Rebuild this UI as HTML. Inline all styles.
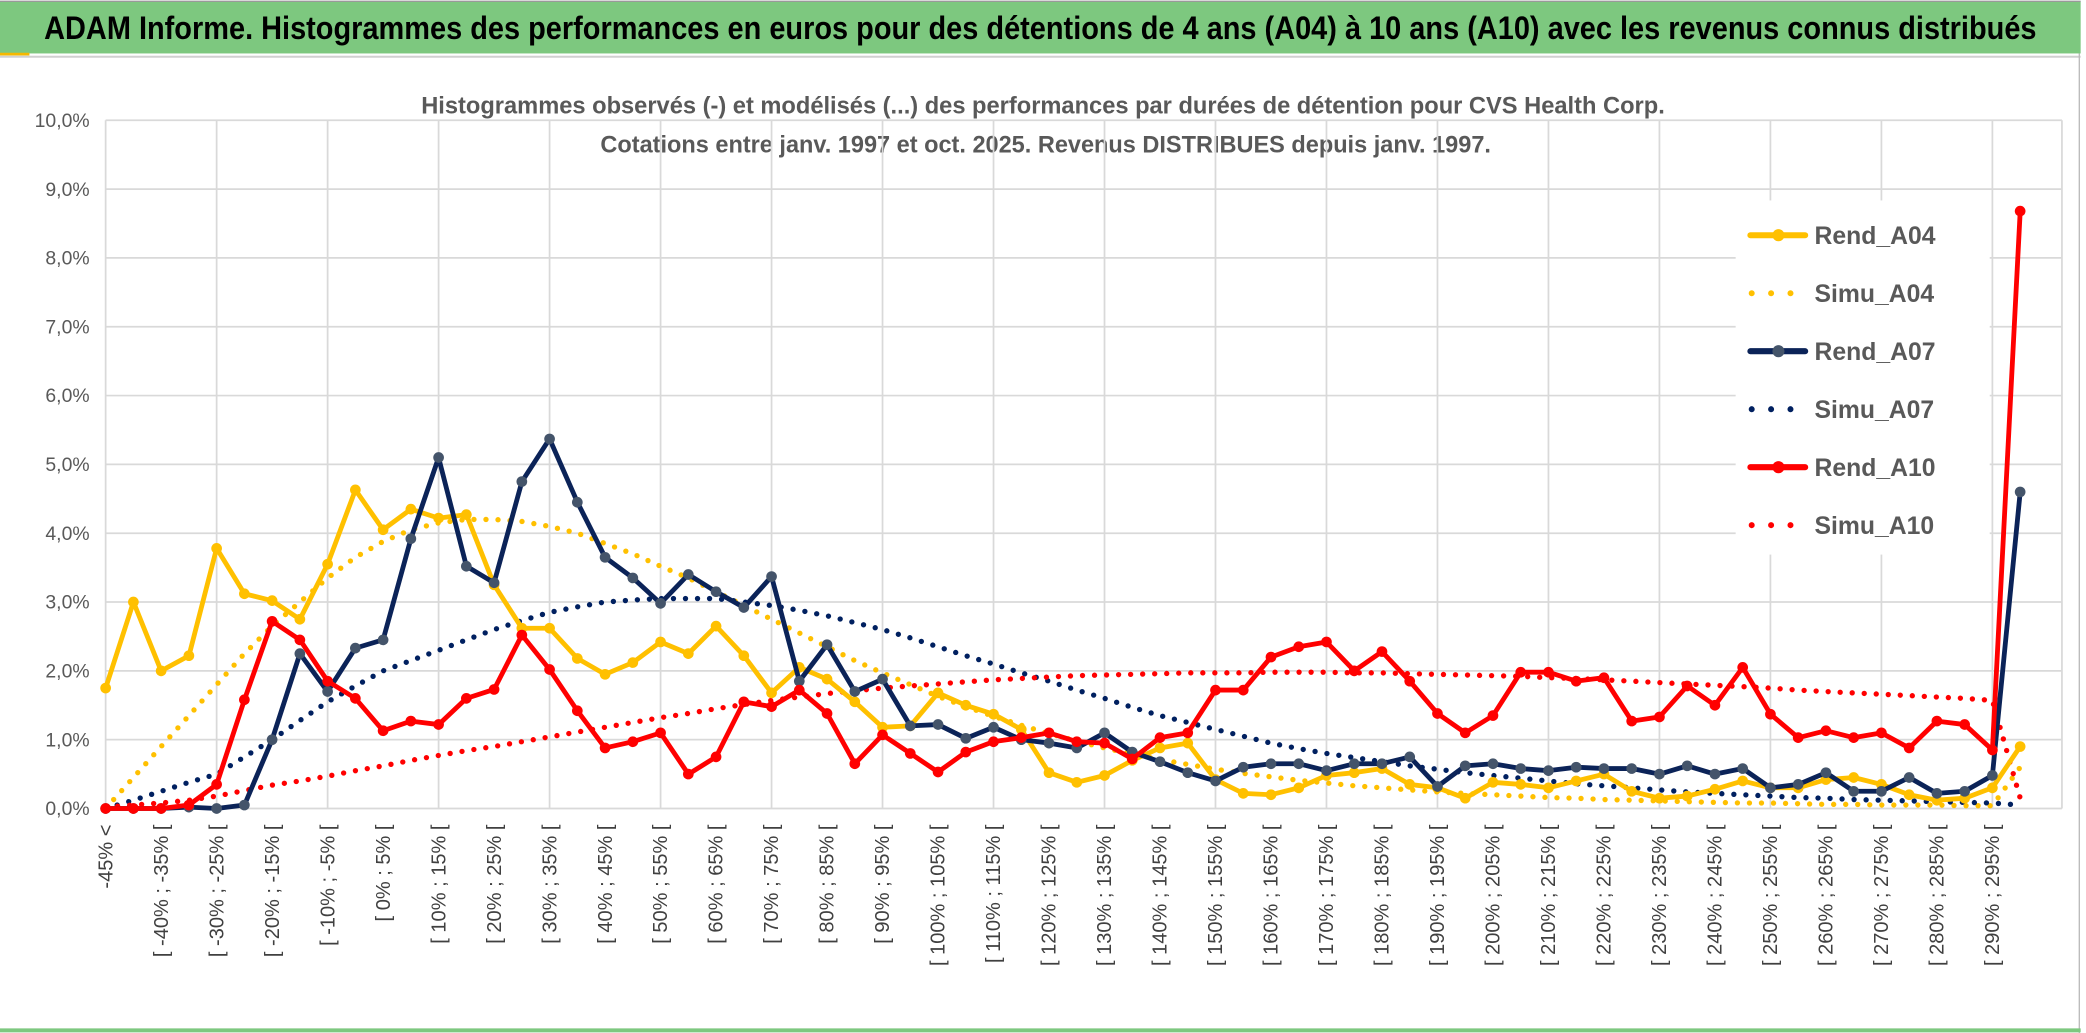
<!DOCTYPE html>
<html><head><meta charset="utf-8"><style>
html,body{margin:0;padding:0;background:#fff;}
svg{display:block;}
text{font-family:"Liberation Sans Narrow","Liberation Sans",sans-serif;}
</style></head><body>
<svg id="chart" width="2086" height="1033" viewBox="0 0 1560 773" preserveAspectRatio="none" xmlns="http://www.w3.org/2000/svg">
<rect x="0" y="0" width="1560" height="773" fill="#fff"/>
<rect x="0" y="1" width="1556" height="39" fill="#7dc87f"/>
<line x1="0" y1="1" x2="1556" y2="1" stroke="#999" stroke-width="1"/>
<line x1="0" y1="40.5" x2="22" y2="40.5" stroke="#f5b800" stroke-width="2"/>
<line x1="0" y1="42.5" x2="1556" y2="42.5" stroke="#d0d0d0" stroke-width="1.5"/>
<line x1="1555" y1="40" x2="1555" y2="773" stroke="#bbb" stroke-width="1"/>
<line x1="0" y1="771" x2="1556" y2="771" stroke="#7dc87f" stroke-width="3"/>
<text x="33" y="29" font-size="24" font-weight="bold" fill="#000" textLength="1490" lengthAdjust="spacingAndGlyphs">ADAM Informe. Histogrammes des performances en euros pour des détentions de 4 ans (A04) à 10 ans (A10) avec les revenus connus distribués</text>
<text x="780" y="85" font-size="18" font-weight="bold" fill="#595959" text-anchor="middle" textLength="930" lengthAdjust="spacingAndGlyphs">Histogrammes observés (-) et modélisés (...) des performances par durées de détention pour CVS Health Corp.</text>
<text x="782" y="114" font-size="18" font-weight="bold" fill="#595959" text-anchor="middle" textLength="666" lengthAdjust="spacingAndGlyphs">Cotations entre janv. 1997 et oct. 2025. Revenus DISTRIBUES depuis janv. 1997.</text>
<g id="grid"></g><g id="axes"></g><g id="series"></g><g id="legend"></g>
</svg>
<script>
const categories = ["-45% <","[ -45% ; -40% [","[ -40% ; -35% [","[ -35% ; -30% [","[ -30% ; -25% [","[ -25% ; -20% [","[ -20% ; -15% [","[ -15% ; -10% [","[ -10% ; -5% [","[ -5% ; 0% [","[ 0% ; 5% [","[ 5% ; 10% [","[ 10% ; 15% [","[ 15% ; 20% [","[ 20% ; 25% [","[ 25% ; 30% [","[ 30% ; 35% [","[ 35% ; 40% [","[ 40% ; 45% [","[ 45% ; 50% [","[ 50% ; 55% [","[ 55% ; 60% [","[ 60% ; 65% [","[ 65% ; 70% [","[ 70% ; 75% [","[ 75% ; 80% [","[ 80% ; 85% [","[ 85% ; 90% [","[ 90% ; 95% [","[ 95% ; 100% [","[ 100% ; 105% [","[ 105% ; 110% [","[ 110% ; 115% [","[ 115% ; 120% [","[ 120% ; 125% [","[ 125% ; 130% [","[ 130% ; 135% [","[ 135% ; 140% [","[ 140% ; 145% [","[ 145% ; 150% [","[ 150% ; 155% [","[ 155% ; 160% [","[ 160% ; 165% [","[ 165% ; 170% [","[ 170% ; 175% [","[ 175% ; 180% [","[ 180% ; 185% [","[ 185% ; 190% [","[ 190% ; 195% [","[ 195% ; 200% [","[ 200% ; 205% [","[ 205% ; 210% [","[ 210% ; 215% [","[ 215% ; 220% [","[ 220% ; 225% [","[ 225% ; 230% [","[ 230% ; 235% [","[ 235% ; 240% [","[ 240% ; 245% [","[ 245% ; 250% [","[ 250% ; 255% [","[ 255% ; 260% [","[ 260% ; 265% [","[ 265% ; 270% [","[ 270% ; 275% [","[ 275% ; 280% [","[ 280% ; 285% [","[ 285% ; 290% [","[ 290% ; 295% [","[ 295% ; 300% ["];
const yTicks = [0,1,2,3,4,5,6,7,8,9,10];
const yTickLabels = ["0,0%","1,0%","2,0%","3,0%","4,0%","5,0%","6,0%","7,0%","8,0%","9,0%","10,0%"];
const rendA04 = [1.75,3.0,2.0,2.22,3.78,3.12,3.02,2.75,3.55,4.63,4.05,4.35,4.22,4.27,3.25,2.62,2.62,2.18,1.95,2.12,2.42,2.25,2.65,2.22,1.68,2.05,1.88,1.55,1.18,1.2,1.68,1.5,1.37,1.15,0.52,0.38,0.48,0.7,0.88,0.95,0.42,0.22,0.2,0.3,0.48,0.52,0.58,0.35,0.3,0.15,0.38,0.35,0.3,0.4,0.5,0.25,0.15,0.18,0.28,0.4,0.3,0.3,0.42,0.45,0.35,0.2,0.12,0.15,0.3,0.9];
const simuA04 = [0,0.45,0.9,1.35,1.8,2.25,2.65,3.0,3.35,3.65,3.88,4.05,4.15,4.2,4.2,4.17,4.1,4.0,3.85,3.7,3.52,3.35,3.15,2.95,2.75,2.55,2.35,2.15,1.97,1.8,1.63,1.48,1.34,1.21,1.09,0.98,0.88,0.79,0.71,0.64,0.57,0.51,0.46,0.41,0.37,0.33,0.3,0.27,0.24,0.22,0.2,0.18,0.16,0.15,0.13,0.12,0.11,0.1,0.09,0.08,0.08,0.07,0.06,0.06,0.05,0.05,0.05,0.04,0.04,0.6];
const rendA07 = [0,0,0,0.02,0,0.05,1.0,2.25,1.7,2.33,2.45,3.92,5.1,3.52,3.28,4.75,5.37,4.45,3.65,3.35,2.98,3.4,3.15,2.92,3.37,1.85,2.38,1.7,1.88,1.2,1.22,1.02,1.18,1.0,0.95,0.88,1.1,0.82,0.68,0.52,0.4,0.6,0.65,0.65,0.55,0.65,0.65,0.75,0.32,0.62,0.65,0.58,0.55,0.6,0.58,0.58,0.5,0.62,0.5,0.58,0.3,0.35,0.52,0.25,0.25,0.45,0.22,0.25,0.48,4.6];
const simuA07 = [0,0.12,0.25,0.38,0.5,0.75,1.0,1.28,1.55,1.78,2.0,2.15,2.3,2.45,2.6,2.73,2.85,2.93,3.0,3.03,3.05,3.05,3.05,3.0,2.95,2.88,2.8,2.7,2.6,2.48,2.35,2.22,2.1,1.97,1.85,1.72,1.6,1.47,1.35,1.25,1.15,1.05,0.95,0.87,0.8,0.74,0.68,0.62,0.57,0.52,0.48,0.44,0.4,0.36,0.33,0.3,0.27,0.24,0.22,0.2,0.18,0.16,0.15,0.13,0.12,0.11,0.1,0.09,0.08,0.05];
const rendA10 = [0,0,0,0.05,0.35,1.58,2.72,2.45,1.85,1.6,1.13,1.27,1.22,1.6,1.73,2.52,2.02,1.42,0.88,0.97,1.1,0.5,0.75,1.55,1.48,1.72,1.38,0.65,1.07,0.8,0.53,0.82,0.97,1.03,1.1,0.97,0.95,0.72,1.03,1.1,1.72,1.72,2.2,2.35,2.42,2.0,2.28,1.85,1.38,1.1,1.35,1.98,1.98,1.85,1.9,1.27,1.33,1.78,1.5,2.05,1.37,1.03,1.13,1.03,1.1,0.88,1.27,1.22,0.85,8.68];
const simuA10 = [0.02,0.05,0.08,0.12,0.18,0.26,0.34,0.4,0.47,0.55,0.62,0.7,0.77,0.84,0.9,0.97,1.04,1.11,1.18,1.25,1.32,1.38,1.45,1.51,1.57,1.62,1.67,1.71,1.75,1.78,1.81,1.84,1.87,1.89,1.91,1.93,1.94,1.95,1.96,1.97,1.97,1.97,1.98,1.98,1.98,1.97,1.97,1.96,1.95,1.94,1.93,1.92,1.9,1.89,1.87,1.85,1.83,1.81,1.79,1.77,1.75,1.72,1.7,1.68,1.66,1.64,1.62,1.6,1.57,0.15];

const NS = "http://www.w3.org/2000/svg";
const X0 = 79, DX = 20.75, Y0 = 605, YPER = 51.5, XRIGHT = 1542;
function xPos(i){ return X0 + i*DX; }
function yPos(v){ return Y0 - v*YPER; }
function mk(tag, attrs, parent){
  const e = document.createElementNS(NS, tag);
  for (const k in attrs) e.setAttribute(k, attrs[k]);
  parent.appendChild(e); return e;
}
const grid = document.getElementById('grid');
const axes = document.getElementById('axes');
const series = document.getElementById('series');
const legend = document.getElementById('legend');

yTicks.forEach((t, k) => {
  const l = mk('line', {x1:X0, x2:XRIGHT, y1:yPos(t), y2:yPos(t), stroke:'#d9d9d9', 'stroke-width':1.3}, grid);
  
  
  const tx = mk('text', {x:67, y:yPos(t)+5, 'font-size':14.5, fill:'#595959', 'text-anchor':'end'}, axes);
  tx.textContent = yTickLabels[k];
  
  
});
categories.forEach((c, i) => {
  if (i % 4 === 0) {
    const g = mk('line', {x1:xPos(i), x2:xPos(i), y1:yPos(10), y2:Y0, stroke:'#d9d9d9', 'stroke-width':1.3}, grid);
    
    
  }
  if (i % 2 === 0) {
    const x = xPos(i) + 5;
    const t = mk('text', {x:x, y:617, 'font-size':15, fill:'#404040', 'text-anchor':'end', transform:'rotate(-90 '+x+' 617)'}, axes);
    t.textContent = c;
    
    
  }
});
mk('line', {x1:XRIGHT, x2:XRIGHT, y1:yPos(10), y2:Y0, stroke:'#d9d9d9', 'stroke-width':1.3}, grid);

function pts(arr){ return arr.map((v,i)=>xPos(i).toFixed(1)+','+yPos(v).toFixed(1)).join(' '); }
function drawSim(arr, color, name){
  const p = mk('polyline', {points:pts(arr), fill:'none', stroke:color, 'stroke-width':4, 'stroke-dasharray':'0 9', 'stroke-linecap':'round', 'stroke-linejoin':'round'}, series);
  
  
}
function drawRend(arr, color, mcolor, name){
  const p = mk('polyline', {points:pts(arr), fill:'none', stroke:color, 'stroke-width':3.6, 'stroke-linejoin':'round'}, series);
  
  
  arr.forEach((v,i) => {
    const c = mk('circle', {cx:xPos(i), cy:yPos(v), r:4, fill:mcolor}, series);
    
    
  });
}
drawSim(simuA04, '#ffc000', 'simu-a04-line');
drawSim(simuA07, '#002060', 'simu-a07-line');
drawSim(simuA10, '#ff0000', 'simu-a10-line');
drawRend(rendA04, '#ffc000', '#ffc000', 'rend-a04-line');
drawRend(rendA07, '#0b2358', '#44546a', 'rend-a07-line');
drawRend(rendA10, '#ff0000', '#ff0000', 'rend-a10-line');

const lbg = mk('rect', {x:1298, y:150, width:190, height:265, fill:'#fff'}, legend);


const legItems = [['Rend_A04','#ffc000','#ffc000',false],['Simu_A04','#ffc000',null,true],['Rend_A07','#0b2358','#44546a',false],['Simu_A07','#002060',null,true],['Rend_A10','#ff0000','#ff0000',false],['Simu_A10','#ff0000',null,true]];
legItems.forEach((it, k) => {
  const y = 176 + k*43.4;
  const g = mk('g', {}, legend);
  
  
  if (it[3]) {
    mk('line', {x1:1310, x2:1350, y1:y, y2:y, stroke:it[1], 'stroke-width':4.5, 'stroke-dasharray':'0 14.5', 'stroke-linecap':'round'}, g);
  } else {
    mk('line', {x1:1309, x2:1350, y1:y, y2:y, stroke:it[1], 'stroke-width':4.5, 'stroke-linecap':'round'}, g);
    mk('circle', {cx:1330, cy:y, r:4.5, fill:it[2]}, g);
  }
  const t = mk('text', {x:1357, y:y+6.5, 'font-size':18.5, 'font-weight':'bold', fill:'#595959'}, g);
  t.textContent = it[0];
});
</script>
</body></html>
